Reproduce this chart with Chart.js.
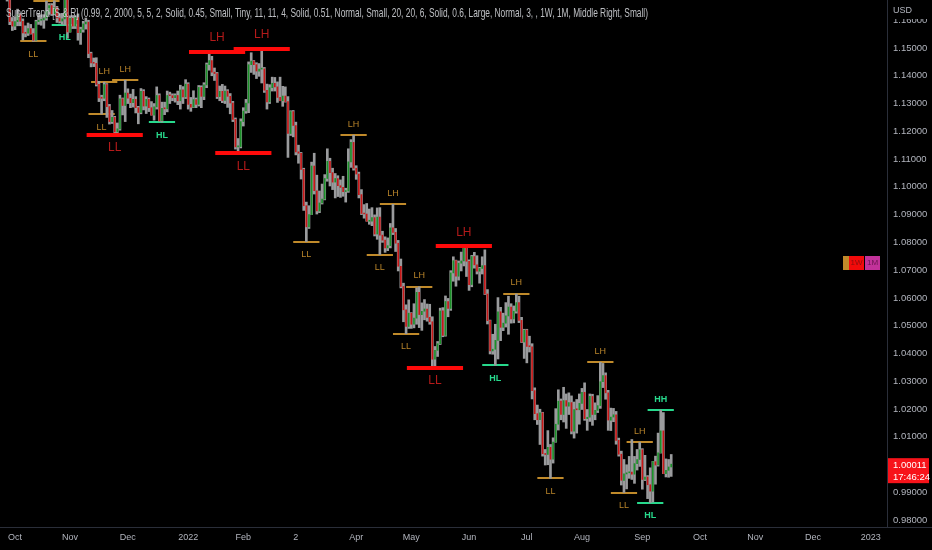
<!DOCTYPE html>
<html>
<head>
<meta charset="utf-8">
<script src="https://cdn.jsdelivr.net/npm/chart.js@4.4.1/dist/chart.umd.min.js"></script>
<style>
  html, body { margin: 0; padding: 0; background: #000; }
  #wrap { width: 932px; height: 550px; }
</style>
</head>
<body>
<div id="wrap"><canvas id="chart"></canvas></div>
<script>
// EURUSD daily, bar index 0 = 1 Oct 2021
const firstBar = -5;
const opens = [1.1738,1.1719,1.1695,1.1683,1.1595,
  1.1579,1.1595,1.1620,1.1596,1.1554,1.1553,1.1570,1.1552,1.1528,1.1595,1.1600,1.1601,1.1608,1.1632,1.1653,1.1623,1.1645,1.1608,1.1597,1.1605,1.1681,
  1.1558,1.1607,1.1579,1.1610,1.1555,1.1567,1.1587,1.1593,1.1480,1.1446,1.1445,1.1369,1.1320,1.1319,1.1368,1.1289,1.1235,1.1250,1.1198,1.1209,1.1317,1.1293,
  1.1338,1.1319,1.1303,1.1315,1.1285,1.1268,1.1344,1.1291,1.1315,1.1285,1.1258,1.1288,1.1329,1.1238,1.1283,1.1281,1.1329,1.1328,1.1321,1.1329,1.1310,1.1349,1.1324,
  1.1370,1.1297,1.1287,1.1314,1.1297,1.1358,1.1326,1.1367,1.1440,1.1455,1.1413,1.1408,1.1325,1.1344,1.1311,1.1345,1.1326,1.1302,1.1243,1.1144,1.1145,
  1.1235,1.1273,1.1302,1.1440,1.1453,1.1440,1.1417,1.1424,1.1425,1.1348,1.1306,1.1357,1.1373,1.1360,1.1322,1.1310,1.1327,1.1307,1.1192,1.1271,
  1.1221,1.1126,1.1121,1.1063,1.0932,1.0856,1.0900,1.1075,1.0986,1.0913,1.0942,1.0956,1.1030,1.1092,1.1051,1.1017,1.1030,1.1004,1.0998,1.0983,1.0985,1.1090,1.1160,
  1.1067,1.1046,1.0972,1.0904,1.0902,1.0876,1.0876,1.0889,1.0830,1.0891,1.0826,1.0808,1.0780,1.0788,1.0852,1.0836,1.0797,1.0714,1.0641,1.0557,1.0497,
  1.0545,1.0505,1.0527,1.0620,1.0540,1.0552,1.0560,1.0530,1.0514,1.0379,1.0411,1.0435,1.0553,1.0465,1.0587,1.0562,1.0690,1.0734,1.0678,1.0725,1.0733,1.0780,
  1.0732,1.0648,1.0749,1.0719,1.0696,1.0706,1.0716,1.0614,1.0518,1.0409,1.0415,1.0447,1.0550,1.0494,1.0509,1.0535,1.0567,1.0524,1.0552,1.0583,1.0519,1.0441,
  1.0484,1.0425,1.0424,1.0266,1.0183,1.0161,1.0186,1.0039,1.0036,1.0062,1.0019,1.0081,1.0145,1.0228,1.0180,1.0230,1.0210,1.0223,1.0120,1.0198,1.0197,
  1.0220,1.0260,1.0165,1.0170,1.0245,1.0180,1.0195,1.0212,1.0298,1.0320,1.0258,1.0160,1.0171,1.0179,1.0087,1.0037,0.9943,0.9966,0.9970,0.9973,0.9965,1.0003,1.0018,
  1.0053,0.9946,0.9955,0.9927,0.9904,1.0010,0.9998,1.0042,1.0121,0.9967,0.9979,0.9991];
const highs = [1.1750,1.1720,1.1700,1.1686,1.1610,
  1.1611,1.1640,1.1624,1.1605,1.1580,1.1590,1.1585,1.1570,1.1600,1.1624,1.1620,1.1620,1.1669,1.1660,1.1660,1.1670,1.1650,1.1624,1.1625,1.1692,1.1693,
  1.1616,1.1617,1.1616,1.1623,1.1575,1.1596,1.1608,1.1600,1.1485,1.1464,1.1465,1.1380,1.1330,1.1377,1.1372,1.1297,1.1275,1.1254,1.1230,1.1330,1.1320,1.1384,
  1.1353,1.1334,1.1351,1.1325,1.1290,1.1354,1.1350,1.1325,1.1320,1.1307,1.1300,1.1360,1.1335,1.1305,1.1305,1.1345,1.1341,1.1335,1.1335,1.1345,1.1366,1.1361,1.1386,
  1.1375,1.1322,1.1346,1.1320,1.1365,1.1364,1.1375,1.1446,1.1482,1.1470,1.1428,1.1412,1.1363,1.1369,1.1363,1.1350,1.1336,1.1308,1.1248,1.1174,
  1.1245,1.1285,1.1315,1.1450,1.1483,1.1455,1.1447,1.1444,1.1495,1.1430,1.1370,1.1368,1.1395,1.1394,1.1378,1.1395,1.1362,1.1360,1.1325,1.1274,1.1275,
  1.1233,1.1150,1.1124,1.1067,1.0945,1.0932,1.1089,1.1121,1.1042,1.0985,1.1010,1.1044,1.1137,1.1103,1.1067,1.1048,1.1040,1.1025,1.1038,1.0995,1.1137,1.1170,1.1186,
  1.1076,1.1053,1.0990,1.0936,1.0940,1.0920,1.0925,1.0899,1.0924,1.0925,1.0840,1.0820,1.0816,1.0868,1.0937,1.0850,1.0807,1.0740,1.0653,1.0575,1.0593,
  1.0547,1.0579,1.0636,1.0640,1.0582,1.0594,1.0578,1.0577,1.0532,1.0425,1.0443,1.0563,1.0565,1.0607,1.0598,1.0698,1.0748,1.0736,1.0733,1.0765,1.0786,1.0785,
  1.0737,1.0753,1.0764,1.0752,1.0710,1.0748,1.0773,1.0630,1.0520,1.0469,1.0505,1.0601,1.0566,1.0545,1.0583,1.0606,1.0579,1.0571,1.0614,1.0606,1.0530,1.0487,
  1.0487,1.0462,1.0435,1.0276,1.0214,1.0199,1.0188,1.0054,1.0122,1.0072,1.0096,1.0201,1.0269,1.0236,1.0278,1.0254,1.0258,1.0247,1.0225,1.0234,1.0254,
  1.0274,1.0294,1.0198,1.0254,1.0253,1.0222,1.0248,1.0368,1.0364,1.0330,1.0267,1.0203,1.0202,1.0191,1.0095,1.0048,1.0018,0.9999,1.0029,1.0090,1.0029,1.0054,1.0080,
  1.0057,1.0033,0.9960,0.9988,1.0011,1.0030,1.0113,1.0196,1.0187,1.0020,1.0018,1.0036];
const lows = [1.1700,1.1680,1.1669,1.1584,1.1563,
  1.1566,1.1580,1.1580,1.1529,1.1540,1.1545,1.1550,1.1524,1.1525,1.1585,1.1582,1.1571,1.1600,1.1621,1.1617,1.1619,1.1592,1.1590,1.1585,1.1583,1.1535,
  1.1557,1.1570,1.1570,1.1528,1.1513,1.1557,1.1568,1.1465,1.1432,1.1433,1.1363,1.1307,1.1262,1.1310,1.1250,1.1226,1.1228,1.1186,1.1187,1.1204,1.1259,1.1235,
  1.1300,1.1285,1.1287,1.1266,1.1227,1.1263,1.1277,1.1264,1.1271,1.1258,1.1240,1.1280,1.1236,1.1233,1.1260,1.1270,1.1300,1.1310,1.1305,1.1296,1.1280,1.1300,1.1318,
  1.1280,1.1272,1.1285,1.1285,1.1291,1.1285,1.1314,1.1357,1.1420,1.1400,1.1383,1.1318,1.1310,1.1303,1.1300,1.1286,1.1263,1.1235,1.1136,1.1121,
  1.1140,1.1219,1.1265,1.1267,1.1412,1.1405,1.1390,1.1398,1.1374,1.1340,1.1280,1.1300,1.1345,1.1345,1.1304,1.1310,1.1290,1.1305,1.1106,1.1185,1.1180,
  1.1115,1.1085,1.1028,1.0915,1.0803,1.0850,1.0900,1.0974,1.0902,1.0907,1.0938,1.0953,1.1020,1.1003,1.0990,1.0960,1.0965,1.0962,1.0966,1.0945,1.0980,1.1070,1.1060,
  1.1027,1.0960,1.0900,1.0887,1.0876,1.0865,1.0860,1.0823,1.0811,1.0756,1.0800,1.0764,1.0770,1.0780,1.0828,1.0767,1.0697,1.0636,1.0514,1.0471,1.0490,
  1.0490,1.0492,1.0505,1.0493,1.0483,1.0521,1.0516,1.0505,1.0354,1.0347,1.0389,1.0432,1.0460,1.0462,1.0532,1.0555,1.0660,1.0642,1.0664,1.0697,1.0715,1.0677,
  1.0627,1.0640,1.0707,1.0686,1.0653,1.0686,1.0612,1.0506,1.0398,1.0397,1.0357,1.0380,1.0446,1.0482,1.0495,1.0469,1.0509,1.0510,1.0545,1.0511,1.0439,1.0382,
  1.0366,1.0405,1.0236,1.0161,1.0144,1.0072,1.0030,0.9998,0.9999,0.9950,1.0005,1.0080,1.0124,1.0161,1.0153,1.0130,1.0180,1.0110,1.0095,1.0113,1.0145,
  1.0198,1.0159,1.0123,1.0155,1.0141,1.0161,1.0187,1.0202,1.0277,1.0235,1.0123,1.0122,1.0154,1.0073,1.0030,0.9926,0.9899,0.9912,0.9950,0.9946,0.9932,0.9980,0.9993,
  0.9911,0.9942,0.9877,0.9862,0.9865,0.9929,0.9994,1.0041,0.9967,0.9955,0.9954,0.9957];
const closes = [1.1719,1.1695,1.1683,1.1595,1.1579,
  1.1595,1.1620,1.1596,1.1554,1.1553,1.1570,1.1552,1.1528,1.1595,1.1600,1.1601,1.1608,1.1632,1.1653,1.1623,1.1645,1.1608,1.1597,1.1605,1.1681,1.1558,
  1.1607,1.1579,1.1610,1.1555,1.1567,1.1587,1.1593,1.1480,1.1446,1.1445,1.1369,1.1320,1.1319,1.1368,1.1289,1.1235,1.1250,1.1198,1.1209,1.1317,1.1293,1.1338,
  1.1319,1.1303,1.1315,1.1285,1.1268,1.1344,1.1291,1.1315,1.1285,1.1258,1.1288,1.1329,1.1238,1.1283,1.1281,1.1329,1.1328,1.1321,1.1329,1.1310,1.1349,1.1324,1.1370,
  1.1297,1.1287,1.1314,1.1297,1.1358,1.1326,1.1367,1.1440,1.1455,1.1413,1.1408,1.1325,1.1344,1.1311,1.1345,1.1326,1.1302,1.1243,1.1144,1.1145,
  1.1235,1.1273,1.1302,1.1440,1.1453,1.1440,1.1417,1.1424,1.1425,1.1348,1.1306,1.1357,1.1373,1.1360,1.1322,1.1310,1.1327,1.1307,1.1192,1.1271,1.1221,
  1.1126,1.1121,1.1063,1.0932,1.0856,1.0900,1.1075,1.0986,1.0913,1.0942,1.0956,1.1030,1.1092,1.1051,1.1017,1.1030,1.1004,1.0998,1.0983,1.0985,1.1090,1.1160,1.1067,
  1.1046,1.0972,1.0904,1.0902,1.0876,1.0876,1.0889,1.0830,1.0891,1.0826,1.0808,1.0780,1.0788,1.0852,1.0836,1.0797,1.0714,1.0641,1.0557,1.0497,1.0545,
  1.0505,1.0527,1.0620,1.0540,1.0552,1.0560,1.0530,1.0514,1.0379,1.0411,1.0435,1.0553,1.0465,1.0587,1.0562,1.0690,1.0734,1.0678,1.0725,1.0733,1.0780,1.0732,
  1.0648,1.0749,1.0719,1.0696,1.0706,1.0716,1.0614,1.0518,1.0409,1.0415,1.0447,1.0550,1.0494,1.0509,1.0535,1.0567,1.0524,1.0552,1.0583,1.0519,1.0441,1.0484,
  1.0425,1.0424,1.0266,1.0183,1.0161,1.0186,1.0039,1.0036,1.0062,1.0019,1.0081,1.0145,1.0228,1.0180,1.0230,1.0210,1.0223,1.0120,1.0198,1.0197,1.0220,
  1.0260,1.0165,1.0170,1.0245,1.0180,1.0195,1.0212,1.0298,1.0320,1.0258,1.0160,1.0171,1.0179,1.0087,1.0037,0.9943,0.9966,0.9970,0.9973,0.9965,1.0003,1.0018,1.0053,
  0.9946,0.9955,0.9927,0.9904,1.0010,0.9998,1.0042,1.0121,0.9967,0.9979,0.9991,1.00011];

// time axis: bar index of each month start, and its label
const monthTicks = [0, 21, 43, 66, 87, 107, 130, 151, 173, 195, 216, 239, 261, 282, 304, 326];
const monthLabels = ['Oct', 'Nov', 'Dec', '2022', 'Feb', '2', 'Apr', 'May', 'Jun', 'Jul', 'Aug', 'Sep', 'Oct', 'Nov', 'Dec', '2023'];
const priceTicks = [0.98, 0.99, 1.00, 1.01, 1.02, 1.03, 1.04, 1.05, 1.06, 1.07, 1.08, 1.09, 1.10, 1.11, 1.12, 1.13, 1.14, 1.15, 1.16];

// support / resistance pivots
const pivotBar   = [12, 7, 19, 33, 34, 38, 42, 56, 77, 87, 94, 111, 129, 139, 144, 149, 154, 160, 171, 183, 191, 204, 223, 232, 238, 242, 246];
const pivotPrice = [1.1669, 1.1524, 1.1583, 1.1262, 1.1377, 1.1186, 1.1384, 1.1233, 1.1487, 1.1121, 1.1496, 1.0803, 1.1186, 1.0756, 1.0937, 1.0471, 1.0640, 1.0347, 1.0786, 1.0357, 1.0614, 0.9950, 1.0368, 0.9899, 1.0080, 0.9862, 1.0196];
const pivotType  = ['LH', 'LL', 'HL', 'LL', 'LH', 'LL', 'LH', 'HL', 'LH', 'LL', 'LH', 'LL', 'LH', 'LL', 'LH', 'LL', 'LH', 'LL', 'LH', 'HL', 'LH', 'LL', 'LH', 'LL', 'LH', 'HL', 'HH'];
const pivotMajor = [false, false, false, false, false, true, false, false, true, true, true, false, false, false, false, false, false, true, true, false, false, false, false, false, false, false, false];

const titleText = 'SuperTrend [S & R] (0.99, 2, 2000, 5, 5, 2, Solid, 0.45, Small, Tiny, 11, 11, 4, Solid, 0.51, Normal, Small, 20, 20, 6, Solid, 0.6, Large, Normal, 3, , 1W, 1M, Middle Right, Small)';
const countdownText = '17:46:24';
const tfBoxes = ['', '1W', '1M'];

const wickData = highs.map((h, i) => ({ x: firstBar + i, y: [lows[i], h] }));
const bodyData = opens.map((o, i) => ({ x: firstBar + i, y: [o, closes[i]] }));
const bodyColors = opens.map((o, i) => closes[i] >= o ? '#1a9128' : '#c81616');

const axisText = '#b2b5be';
const font = '"Liberation Sans", Arial, sans-serif';

function levelColor(k) {
  if (pivotMajor[k]) return '#ff0a0a';
  return pivotType[k][0] === 'H' ? '#27d98c' : '#c08a2a';
}

function clipArea(chart) {
  const a = chart.chartArea;
  chart.ctx.beginPath();
  chart.ctx.rect(a.left, a.top, a.right - a.left, a.bottom - a.top);
  chart.ctx.clip();
}

function drawLevels(chart, major) {
  const { ctx, scales: { x, y } } = chart;
  ctx.save();
  clipArea(chart);
  pivotBar.forEach((b, k) => {
    if (pivotMajor[k] !== major) return;
    const half = major ? 10.7 : 5;
    const py = Math.round(y.getPixelForValue(pivotPrice[k]));
    ctx.strokeStyle = levelColor(k);
    ctx.lineWidth = major ? 4 : 2;
    ctx.beginPath();
    ctx.moveTo(x.getPixelForValue(b - half), py);
    ctx.lineTo(x.getPixelForValue(b + half), py);
    ctx.stroke();
  });
  ctx.restore();
}

function drawPivotLabels(chart) {
  const { ctx, scales: { x, y } } = chart;
  ctx.save();
  clipArea(chart);
  ctx.textAlign = 'center';
  ctx.textBaseline = 'middle';
  pivotBar.forEach((b, k) => {
    const major = pivotMajor[k];
    const above = pivotType[k][1] === 'H';
    const py = y.getPixelForValue(pivotPrice[k]);
    const ty = above ? py - (major ? 14 : 11) : py + 13;
    if (major) {
      ctx.font = '12px ' + font;
      ctx.fillStyle = '#b41a1a';
    } else if (pivotType[k][0] === 'H') {
      ctx.font = 'bold 9px ' + font;
      ctx.fillStyle = '#27d98c';
    } else {
      ctx.font = '9px ' + font;
      ctx.fillStyle = '#b8842a';
    }
    ctx.fillText(pivotType[k], x.getPixelForValue(b), ty);
  });
  ctx.restore();
}

const overlay = {
  id: 'overlay',
  beforeDraw(chart) {
    const { ctx, width, height } = chart;
    ctx.save();
    ctx.fillStyle = '#000';
    ctx.fillRect(0, 0, width, height);
    ctx.restore();
  },
  beforeDatasetsDraw(chart) {
    drawLevels(chart, false);
  },
  afterDatasetsDraw(chart) {
    drawLevels(chart, true);
    drawPivotLabels(chart);
  },
  afterDraw(chart) {
    const { ctx, chartArea: a, scales: { y }, width } = chart;
    ctx.save();

    // indicator title, squeezed like the narrow TradingView font
    ctx.font = '13px ' + font;
    ctx.fillStyle = 'rgba(205,207,212,0.92)';
    ctx.textBaseline = 'middle';
    ctx.textAlign = 'left';
    const tw = ctx.measureText(titleText).width;
    ctx.save();
    ctx.translate(6, 13);
    ctx.scale(642 / tw, 1);
    ctx.fillText(titleText, 0, 0);
    ctx.restore();

    // bottom rule under the price axis too
    ctx.strokeStyle = '#2a2e39';
    ctx.lineWidth = 1;
    ctx.beginPath();
    ctx.moveTo(a.right, a.bottom + 0.5);
    ctx.lineTo(width, a.bottom + 0.5);
    ctx.stroke();

    // currency label over the top of the price axis
    ctx.fillStyle = '#000';
    ctx.fillRect(a.right + 1, 0, width - a.right, 19);
    ctx.fillStyle = axisText;
    ctx.font = '9px ' + font;
    ctx.fillText('USD', a.right + 6, 11);

    // last price tag
    const last = closes[closes.length - 1];
    const py = y.getPixelForValue(last);
    ctx.fillStyle = '#f7131a';
    ctx.fillRect(a.right + 1, py - 6, 41, 25);
    ctx.fillStyle = '#ffffff';
    ctx.font = '9.5px ' + font;
    ctx.fillText(last.toFixed(5), a.right + 6, py + 1);
    ctx.fillText(countdownText, a.right + 6, py + 13);

    // timeframe boxes
    const boxX = [843, 849, 865];
    const boxW = [6, 15, 15];
    const boxC = ['#c08a2a', '#f20a0a', '#c2329a'];
    const boxT = ['#000', '#8a0d0d', '#6a1550'];
    ctx.textAlign = 'center';
    ctx.font = '8px ' + font;
    tfBoxes.forEach((t, i) => {
      ctx.fillStyle = boxC[i];
      ctx.fillRect(boxX[i], 256, boxW[i], 14);
      ctx.fillStyle = boxT[i];
      ctx.fillText(t, boxX[i] + boxW[i] / 2, 263);
    });
    ctx.restore();
  }
};

new Chart(document.getElementById('chart'), {
  type: 'bar',
  data: {
    datasets: [
      { data: wickData, backgroundColor: '#9a9b9d', barThickness: 2, grouped: false, order: 2 },
      { data: bodyData, backgroundColor: bodyColors, barThickness: 1, minBarLength: 1, grouped: false, order: 1 }
    ]
  },
  options: {
    responsive: true,
    maintainAspectRatio: false,
    animation: false,
    layout: { padding: 0 },
    plugins: { legend: { display: false }, tooltip: { enabled: false } },
    scales: {
      x: {
        type: 'linear',
        offset: false,
        min: -5.7,
        max: 332.2,
        grid: { display: false, drawTicks: false },
        border: { display: true, color: '#2a2e39' },
        afterBuildTicks: (s) => { s.ticks = monthTicks.map(v => ({ value: v })); },
        afterFit: (s) => { s.height = 23; s.paddingLeft = 0; s.paddingRight = 0; },
        ticks: {
          autoSkip: false,
          maxRotation: 0,
          padding: 5,
          color: axisText,
          font: { family: font, size: 9 },
          callback: (v) => monthLabels[monthTicks.indexOf(v)]
        }
      },
      y: {
        type: 'linear',
        position: 'right',
        min: 0.97748,
        max: 1.16729,
        grid: { display: false, drawTicks: false },
        border: { display: true, color: '#2a2e39' },
        afterBuildTicks: (s) => { s.ticks = priceTicks.map(v => ({ value: v })); },
        afterFit: (s) => { s.width = 45; s.paddingTop = 0; s.paddingBottom = 0; },
        ticks: {
          padding: 6,
          color: axisText,
          font: { family: font, size: 9.5 },
          callback: (v) => v.toFixed(5)
        }
      }
    }
  },
  plugins: [overlay]
});
</script>
</body>
</html>
